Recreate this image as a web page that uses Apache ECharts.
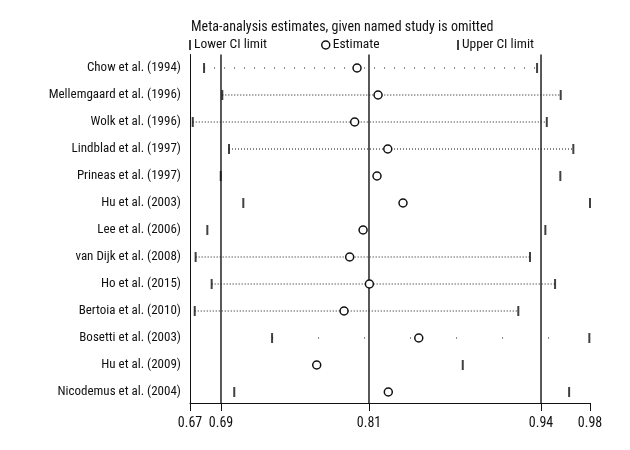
<!DOCTYPE html>
<html>
<head>
<meta charset="utf-8">
<script src="https://cdn.jsdelivr.net/npm/echarts@6/dist/echarts.min.js"></script>
<style>
html,body{margin:0;padding:0;background:#fff;}
#chart{width:630px;height:450px;}
</style>
</head>
<body>
<div id="chart"></div>
<script>
// ---- data ----
var studies = [
  'Chow et al. (1994)', 'Mellemgaard et al. (1996)', 'Wolk et al. (1996)',
  'Lindblad et al. (1997)', 'Prineas et al. (1997)', 'Hu et al. (2003)',
  'Lee et al. (2006)', 'van Dijk et al. (2008)', 'Ho et al. (2015)',
  'Bertoia et al. (2010)', 'Bosetti et al. (2003)', 'Hu et al. (2009)',
  'Nicodemus et al. (2004)'
];
var lowerCI  = [0.6819, 0.6958, 0.6733, 0.7009, 0.6946, 0.7118, 0.6844, 0.6755, 0.6877, 0.6748, 0.7337, null,   0.7049];
var estimate = [0.7984, 0.8144, 0.7966, 0.8218, 0.8136, 0.8334, 0.8030, 0.7928, 0.8078, 0.7885, 0.8454, 0.7677, 0.8222];
var upperCI  = [0.9355, 0.9535, 0.9429, 0.9631, 0.9532, 0.9758, 0.9418, 0.9301, 0.9492, 0.9212, 0.9753, 0.8789, 0.9599];
var overallLower = 0.6948;
var overallEstimate = 0.8075;
var overallUpper = 0.9385;
var axisMin = 0.6712;
var axisMax = 0.9758;
var tickValues = [0.6712, 0.6948, 0.8075, 0.9385, 0.9758];
var tickLabels = ['0.67', '0.69', '0.81', '0.94', '0.98'];
var titleText = 'Meta-analysis estimates, given named study is omitted';

// ---- styling ----
var FONT = '"Roboto Condensed", sans-serif';
var FS = 13;
var Y_MIN = -0.5, Y_MAX = 12.407;
// dash pattern for connector of each row (null = no connector)
var connectorDash = [[1,9],[1,2],[1,2],[1,2],null,null,null,[1,2],[1,2],[1,2],[1,45],null,null];

var idx = studies.map(function(_, i){ return i; });
var series = [];
[overallLower, overallEstimate, overallUpper].forEach(function(v){
  series.push({
    type: 'line', silent: true, symbol: 'none', z: 2,
    data: [[v, Y_MIN], [v, Y_MAX]],
    lineStyle: { color: '#222', width: 1.5 }
  });
});
idx.forEach(function(i){
  if (!connectorDash[i] || lowerCI[i] == null) return;
  series.push({
    type: 'line', silent: true, symbol: 'none', z: 1,
    data: [[lowerCI[i], i], [upperCI[i], i]],
    lineStyle: { color: '#111', width: 1, type: connectorDash[i] }
  });
});
series.push({
  name: 'Lower CI limit', type: 'scatter', symbol: 'rect', symbolSize: [2, 10], z: 3,
  itemStyle: { color: '#111' },
  data: idx.filter(function(i){ return lowerCI[i] != null; }).map(function(i){ return [lowerCI[i], i]; })
});
series.push({
  name: 'Estimate', type: 'scatter', symbol: 'circle', symbolSize: 8, z: 4,
  itemStyle: { color: '#fff', borderColor: '#111', borderWidth: 1.5, opacity: 1 },
  data: idx.map(function(i){ return [estimate[i], i]; })
});
series.push({
  name: 'Upper CI limit', type: 'scatter', symbol: 'rect', symbolSize: [2, 10], z: 3,
  itemStyle: { color: '#111' },
  data: idx.map(function(i){ return [upperCI[i], i]; })
});

function legendFor(name, left, icon, w, h) {
  return {
    left: left, top: 38, data: [{ name: name, icon: icon }], itemWidth: w, itemHeight: h,
    itemGap: 0, padding: 0, selectedMode: false,
    textStyle: { fontFamily: FONT, fontSize: 13.5, color: '#111', padding: [0, 0, 0, -2] },
    itemStyle: { color: '#fff', borderWidth: 1.5, borderColor: '#111' }
  };
}
function legendBar(name, left) {
  var l = legendFor(name, left, 'rect', 2, 10);
  l.itemStyle = { color: '#111', borderWidth: 0 };
  return l;
}

var chart = echarts.init(document.getElementById('chart'), null, { renderer: 'canvas' });
chart.setOption({
  animation: false,
  backgroundColor: '#fff',
  title: {
    text: titleText, left: 186, top: 15,
    textStyle: { fontFamily: FONT, fontSize: 14, fontWeight: 'normal', color: '#111' }
  },
  legend: [
    legendBar('Lower CI limit', 189),
    legendFor('Estimate', 321, 'circle', 8, 8),
    legendBar('Upper CI limit', 457)
  ],
  grid: { left: 190, right: 40, top: 54.5, bottom: 47 },
  xAxis: {
    type: 'value', min: axisMin, max: axisMax,
    splitLine: { show: false },
    axisLine: { show: true, onZero: false, lineStyle: { color: '#111', width: 1 } },
    axisTick: { show: true, customValues: tickValues, length: 8, lineStyle: { color: '#111', width: 1 } },
    axisLabel: {
      customValues: tickValues, margin: 13,
      fontFamily: FONT, fontSize: 14, color: '#111',
      formatter: function(v){
        var k = 0, best = Infinity;
        tickValues.forEach(function(t, j){ var d = Math.abs(t - v); if (d < best) { best = d; k = j; } });
        return tickLabels[k];
      }
    }
  },
  yAxis: {
    type: 'value', inverse: true, min: Y_MIN, max: Y_MAX,
    splitLine: { show: false },
    axisLine: { show: true, onZero: false, lineStyle: { color: '#111', width: 1 } },
    axisTick: { show: false },
    axisLabel: {
      customValues: idx, margin: 9,
      fontFamily: FONT, fontSize: FS, color: '#111',
      formatter: function(v){ return studies[Math.round(v)]; }
    }
  },
  series: series
});
</script>
</body>
</html>
